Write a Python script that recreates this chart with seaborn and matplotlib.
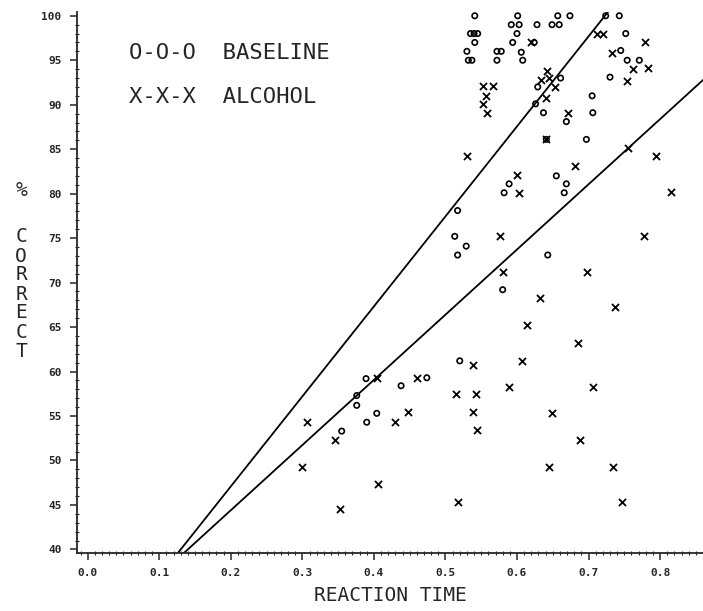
import numpy as np
import pandas as pd
import matplotlib
matplotlib.use("Agg")
import matplotlib.pyplot as plt
import seaborn as sns
from matplotlib.ticker import MultipleLocator, FormatStrFormatter

# baseline (o) points: reaction time, % correct
baseline_rt = [0.541, 0.601, 0.657, 0.674, 0.724, 0.743,
               0.592, 0.603, 0.628, 0.649, 0.659,
               0.535, 0.540, 0.545, 0.600, 0.752,
               0.541, 0.594, 0.624,
               0.530, 0.572, 0.578, 0.606, 0.745,
               0.532, 0.537, 0.572, 0.608, 0.754, 0.771,
               0.661, 0.730, 0.629, 0.705, 0.626, 0.637, 0.706, 0.669,
               0.641, 0.697, 0.655, 0.589, 0.669, 0.582, 0.666,
               0.517, 0.513, 0.529, 0.517, 0.643, 0.580,
               0.520, 0.389, 0.474, 0.438, 0.376, 0.376, 0.404, 0.390, 0.355]
baseline_pc = [100, 100, 100, 100, 100, 100,
               99, 99, 99, 99, 99,
               98, 98, 98, 98, 98,
               97, 97, 97,
               96, 96, 96, 95.9, 96.1,
               95, 95, 95, 95, 95, 95,
               93, 93.1, 92, 91, 90.1, 89.1, 89.1, 88.1,
               86.1, 86.1, 82, 81.1, 81.1, 80.1, 80.1,
               78.1, 75.2, 74.1, 73.1, 73.1, 69.2,
               61.2, 59.2, 59.3, 58.4, 57.3, 56.2, 55.3, 54.3, 53.3]

# alcohol (x) points
alcohol_rt = [0.712, 0.720, 0.619, 0.779, 0.733,
              0.762, 0.783, 0.642, 0.634, 0.645, 0.754,
              0.552, 0.567, 0.653, 0.557, 0.641, 0.552, 0.558, 0.671,
              0.641, 0.755, 0.530, 0.794, 0.681, 0.600, 0.603, 0.815,
              0.576, 0.778, 0.580, 0.698, 0.632, 0.737, 0.614, 0.685, 0.607,
              0.538, 0.404, 0.460, 0.589, 0.706, 0.515, 0.543, 0.538, 0.448, 0.649,
              0.306, 0.429, 0.544, 0.346, 0.688, 0.299, 0.645, 0.734, 0.406,
              0.517, 0.747, 0.353]
alcohol_pc = [98, 98, 97, 97, 95.8,
              94, 94.1, 93.8, 92.8, 93, 92.7,
              92.1, 92.1, 92, 91, 90.7, 90.1, 89.1, 89.1,
              86.1, 85.1, 84.2, 84.2, 83.1, 82.1, 80.1, 80.2,
              75.2, 75.2, 71.2, 71.2, 68.3, 67.2, 65.2, 63.2, 61.2,
              60.7, 59.3, 59.3, 58.3, 58.3, 57.5, 57.5, 55.4, 55.4, 55.3,
              54.3, 54.3, 53.4, 52.3, 52.3, 49.3, 49.3, 49.3, 47.3,
              45.3, 45.3, 44.5]

# fitted lines (slope, intercept)
line_slopes = [101.2, 73.3]
line_intercepts = [26.84, 29.74]

sns.set_style("ticks")
plt.rcParams['font.family'] = ['DejaVu Sans Mono', 'DejaVu Sans']

fig = plt.figure(figsize=(7.03, 6.11), dpi=100)
ax = fig.add_axes([0.1095, 0.095, 0.8905, 0.885])

base = pd.DataFrame({"rt": baseline_rt, "pc": baseline_pc})
alc = pd.DataFrame({"rt": alcohol_rt, "pc": alcohol_pc})

sns.scatterplot(data=base, x="rt", y="pc", marker="o", s=15,
                facecolor="none", edgecolor="black", linewidth=1.2, ax=ax)
sns.scatterplot(data=alc, x="rt", y="pc", marker="x", s=26,
                color="black", linewidth=1.3, ax=ax)

xs = np.linspace(0.0, 0.9, 50)
for m, b in zip(line_slopes, line_intercepts):
    sns.lineplot(x=xs, y=m * xs + b, color="black", linewidth=1.3, ax=ax)

ax.set_xlim(-0.015, 0.86)
ax.set_ylim(39.6, 100.4)
sns.despine(ax=ax)
for sp in ax.spines.values():
    sp.set_linewidth(1.3)

ax.xaxis.set_major_locator(MultipleLocator(0.1))
ax.xaxis.set_minor_locator(MultipleLocator(0.01))
ax.yaxis.set_major_locator(MultipleLocator(5))
ax.yaxis.set_minor_locator(MultipleLocator(1))
ax.xaxis.set_major_formatter(FormatStrFormatter('%.1f'))
ax.yaxis.set_major_formatter(FormatStrFormatter('%d'))
ax.tick_params(which='major', direction='out', length=5, width=1.1,
               labelsize=8, pad=6)
ax.tick_params(which='minor', direction='inout', length=3, width=0.8)
for lab in ax.get_xticklabels() + ax.get_yticklabels():
    lab.set_fontweight('bold')

ax.set_xlabel("")
ax.set_ylabel("")
fig.text(0.555, 0.025, "REACTION TIME", ha="center", va="center", fontsize=14)

fig.text(0.03, 1 - 190 / 611, "%", ha="center", va="center", fontsize=14)
for i, ch in enumerate("CORRECT"):
    fig.text(0.03, 1 - (237 + 19 * i) / 611, ch, ha="center", va="center",
             fontsize=14)

ax.text(0.058, 95.8, "O-O-O  BASELINE", fontsize=16, va="center", ha="left")
ax.text(0.058, 90.9, "X-X-X  ALCOHOL", fontsize=16, va="center", ha="left")

fig.savefig("out.png", dpi=100)
